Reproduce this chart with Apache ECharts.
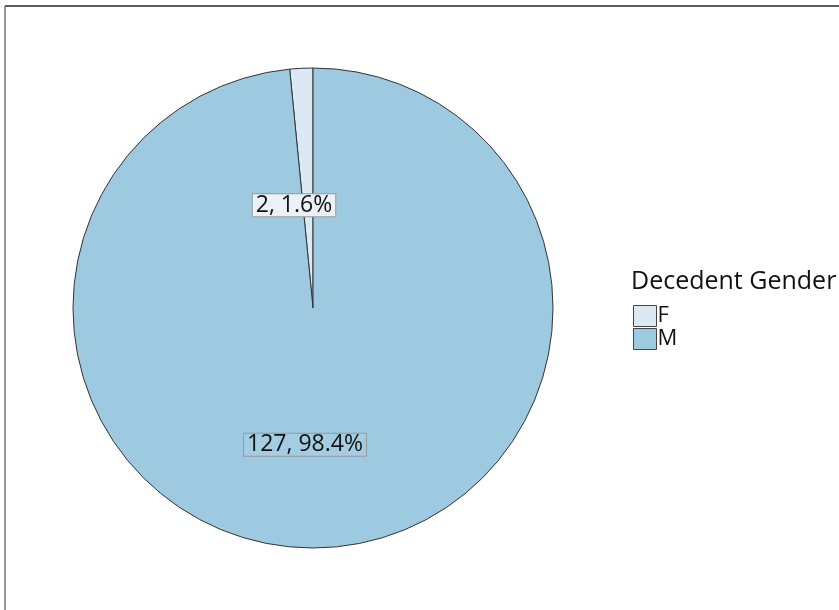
<!DOCTYPE html>
<html>
<head>
<meta charset="utf-8">
<script src="https://cdn.jsdelivr.net/npm/echarts@6/dist/echarts.min.js"></script>
<style>
  html, body { margin: 0; padding: 0; background: #fff; }
  #main { width: 839px; height: 610px; }
</style>
</head>
<body>
<div id="main"></div>
<script>
// data
var genders = ['F', 'M'];
var counts = [2, 127];
var colors = ['#dce8f4', '#9ecae1'];
var labelBg = ['#eaf1f8', '#a4cce2'];
var labelShift = [[-13, 20], [-14, 14]];

var myChart = echarts.init(document.getElementById('main'));
var total = counts.reduce(function (a, b) { return a + b; }, 0);

var pieData = genders.map(function (g, i) {
  return {
    name: g,
    value: counts[i],
    itemStyle: { color: colors[i] },
    label: { backgroundColor: labelBg[i], offset: labelShift[i] }
  };
});

var option = {
  animation: false,
  textStyle: { fontFamily: 'Open Sans' },
  title: {
    text: 'Decedent Gender',
    left: 626,
    top: 264,
    textStyle: { fontFamily: 'Open Sans', fontSize: 25, fontWeight: 'normal', color: '#111' }
  },
  legend: {
    orient: 'vertical',
    left: 628,
    top: 300,
    itemWidth: 23,
    itemHeight: 21,
    itemGap: 1,
    data: genders,
    icon: 'rect',
    itemStyle: { borderColor: '#444', borderWidth: 1 },
    textStyle: { fontFamily: 'Open Sans', fontSize: 22, color: '#111', padding: [0, 0, 0, -4] }
  },
  graphic: [
    { type: 'line', shape: { x1: 5, y1: 6, x2: 839, y2: 6 }, style: { stroke: '#222', lineWidth: 1.5 } },
    { type: 'line', shape: { x1: 5, y1: 6, x2: 5, y2: 610 }, style: { stroke: '#777', lineWidth: 1.5 } }
  ],
  series: [{
    type: 'pie',
    center: [313, 308],
    radius: [0, 240],
    startAngle: 90,
    clockwise: false,
    minAngle: 0,
    itemStyle: { borderColor: '#333', borderWidth: 1 },
    label: {
      position: 'inside',
      formatter: function (p) {
        return p.value + ', ' + (p.value / total * 100).toFixed(1) + '%';
      },
      fontFamily: 'Open Sans',
      fontSize: 23,
      color: '#111',
      borderColor: '#999',
      borderWidth: 1,
      padding: [0, 3, -1, 3]
    },
    labelLine: { show: false },
    emphasis: { disabled: true },
    data: pieData
  }]
};

myChart.setOption(option);
</script>
</body>
</html>
